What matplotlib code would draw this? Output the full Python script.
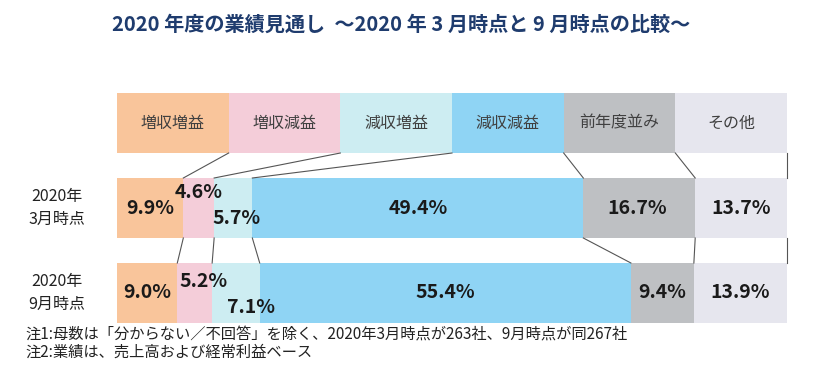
import numpy as np
import matplotlib
matplotlib.use('Agg')
import matplotlib.pyplot as plt

plt.rcParams['font.family'] = ['Noto Sans CJK JP', 'DejaVu Sans']

# データ
categories = ['増収増益', '増収減益', '減収増益', '減収減益', '前年度並み', 'その他']
row_labels = ['2020年\n3月時点', '2020年\n9月時点']
mar_values = [9.9, 4.6, 5.7, 49.4, 16.7, 13.7]
sep_values = [9.0, 5.2, 7.1, 55.4, 9.4, 13.9]

title = '2020 年度の業績見通し  ～2020 年 3 月時点と 9 月時点の比較～'
notes = ['注1:母数は「分からない／不回答」を除く、2020年3月時点が263社、9月時点が同267社',
         '注2:業績は、売上高および経常利益ベース']

colors = ['#F9C59B', '#F4CDD9', '#CDEDF2', '#8FD4F4', '#BEC0C3', '#E6E6EE']

# ラベル位置の微調整 (px)
mar_offsets = [(0, 0), (0, 15), (3, -10), (0, 0), (-2, 0), (0, 0)]
sep_offsets = [(0, 0), (9, 11), (15, -15), (0, 0), (0, 0), (0, 0)]

W, H = 820, 389
fig = plt.figure(figsize=(W / 100, H / 100), dpi=100)
ax = fig.add_axes([117 / W, (H - 323) / H, 670 / W, 230 / H])
bh = 0.706
ax.set_xlim(0, 100)
ax.set_ylim(-bh / 2, 2 + bh / 2)
ax.axis('off')

# 凡例の行 (6等分)
hw = 100 / len(categories)
hx = np.arange(len(categories)) * hw
ax.barh(2, [hw] * len(categories), left=hx, height=bh, color=colors, linewidth=0)
for x, c in zip(hx, categories):
    ax.text(x + hw / 2, 2, c, ha='center', va='center', fontsize=11.5, color='#404040')

rows = [(1, mar_values, mar_offsets), (0, sep_values, sep_offsets)]
for y, vals, offs in rows:
    left = np.concatenate([[0], np.cumsum(vals)[:-1]])
    ax.barh(y, vals, left=left, height=bh, color=colors, linewidth=0)
    for l, v, (dx, dy) in zip(left, vals, offs):
        ax.annotate(f'{v:.1f}%', (l + v / 2, y), xytext=(dx * 0.72, dy * 0.72),
                    textcoords='offset points', ha='center', va='center',
                    fontsize=14, fontweight='bold', color='#1a1a1a')

for (y, vals, _), lab in zip(rows, row_labels):
    ax.text(-60 / 670 * 100, y, lab, ha='center', va='center', fontsize=11.5,
            color='#222222', linespacing=1.4, clip_on=False)

# 区分線
hb = hx + hw
mb = np.cumsum(mar_values)
sb = np.cumsum(sep_values)
for a, b in zip(hb, mb):
    ax.plot([a, b], [2 - bh / 2, 1 + bh / 2], color='#555555', lw=0.8, clip_on=False)
for a, b in zip(mb, sb):
    ax.plot([a, b], [1 - bh / 2, bh / 2], color='#555555', lw=0.8, clip_on=False)

fig.text(401 / W, 1 - 24 / H, title, ha='center', va='center', fontsize=14.5,
         fontweight='bold', color='#1F3C6E')
for i, n in enumerate(notes):
    fig.text(25 / W, 1 - (335 + 17 * i) / H, n, ha='left', va='center',
             fontsize=11, color='#222222')

fig.savefig('out.png', dpi=100)
